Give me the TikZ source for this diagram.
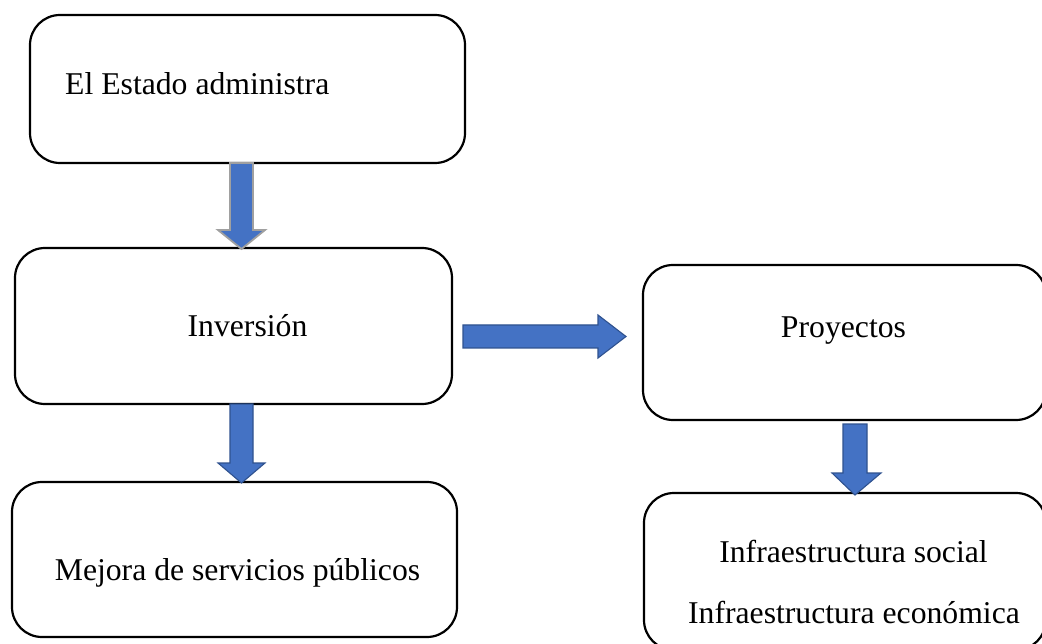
\documentclass[tikz,border=0pt]{standalone}
\usepackage{fontspec}
\setmainfont{Liberation Serif}
\definecolor{arrowfill}{RGB}{68,114,196}
\definecolor{arrowline}{RGB}{47,82,143}
\definecolor{arrowgray}{RGB}{160,160,160}
\begin{document}
\begin{tikzpicture}[x=1pt,y=-1pt,
  box/.style={draw=black, line width=2.2pt, rounded corners=30pt, inner sep=0pt, outer sep=0pt},
  lbl/.style={anchor=base, inner sep=0pt, font=\fontsize{31.7}{38}\selectfont},
  blockarrow/.style={fill=arrowfill, draw=arrowline, line width=1.1pt, line join=miter}]
\useasboundingbox (0,0) rectangle (1042,644);

% boxes
\node[box, minimum width=435pt, minimum height=148pt] (estado) at (247.5,89) {};
\node[box, minimum width=437pt, minimum height=156pt] (inversion) at (233.5,326) {};
\node[box, minimum width=445pt, minimum height=155pt] (mejora) at (234.5,559.5) {};
\node[box, minimum width=403pt, minimum height=155pt] (proyectos) at (844.5,342.5) {};
\node[box, minimum width=402pt, minimum height=157pt] (infra) at (845,571.5) {};

% texts
\node[lbl, anchor=base west] (testado) at (65,95) {El Estado administra};
\node[lbl] (tinversion) at (247.5,337) {Inversión};
\node[lbl] (tmejora) at (237.5,580) {Mejora de servicios públicos};
\node[lbl] (tproyectos) at (843.5,338) {Proyectos};
\node[lbl] (tsocial) at (853.5,562) {Infraestructura social};
\node[lbl] (teconomica) at (854,623) {Infraestructura económica};

% block arrows between the boxes
\draw[blockarrow, draw=arrowgray, line width=1.8pt]
  (230,163) -- (253,163) -- (253,230) -- (265,230) -- (241.5,249)
  -- (218,230) -- (230,230) -- cycle;
\draw[blockarrow]
  (230,404) -- (253,404) -- (253,463) -- (265,463) -- (241.5,483)
  -- (218,463) -- (230,463) -- cycle;
\draw[blockarrow]
  (843,424) -- (867,424) -- (867,473) -- (881,473) -- (855,495)
  -- (832,473) -- (843,473) -- cycle;
\draw[blockarrow]
  (463,325) -- (598,325) -- (598,315) -- (626,336.5) -- (598,358)
  -- (598,348) -- (463,348) -- cycle;
\end{tikzpicture}
\end{document}
